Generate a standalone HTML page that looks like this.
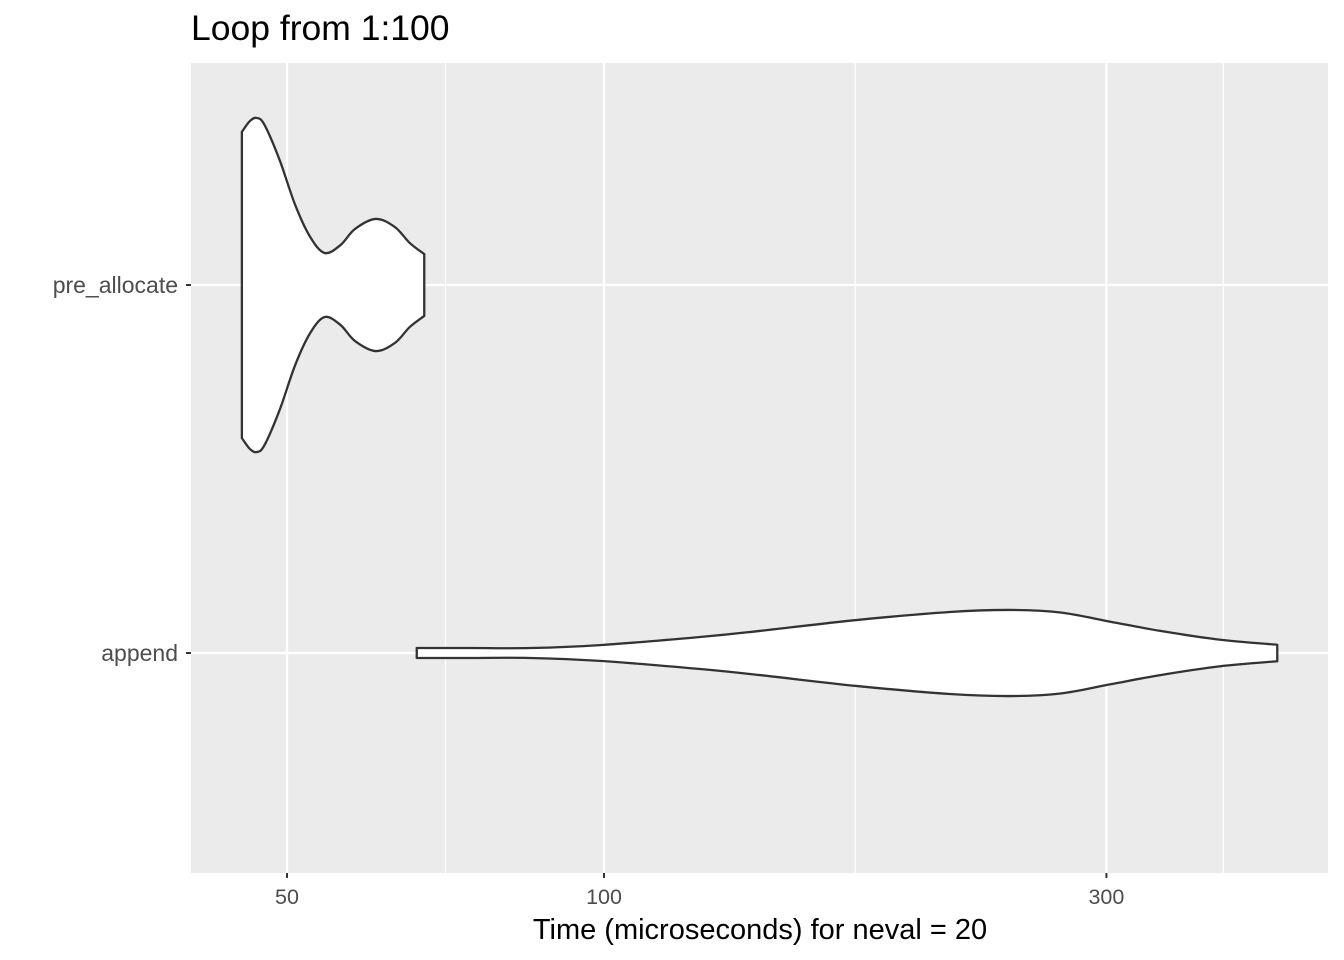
<!DOCTYPE html>
<html><head><meta charset="utf-8">
<style>
html,body{margin:0;padding:0;background:#fff;}
svg{display:block;font-family:"Liberation Sans",sans-serif;}
</style></head>
<body>
<svg id="chart" width="1344" height="960">
<text x="191" y="40" font-size="35.5" fill="#000">Loop from 1:100</text>
<rect x="191" y="63" width="1137" height="810" fill="#ebebeb"/>
<g id="grid"></g>
<g id="violins"></g>
<g id="axes"></g>
<text x="760" y="939" font-size="29" text-anchor="middle" fill="#000">Time (microseconds) for neval = 20</text>
</svg>
<script>
const categories = ["append", "pre_allocate"];
const majorTicks = [50, 100, 300];
const minorTicks = [70.7, 173.2, 387.3];
const preTimes = [45.3,46.1,46.8,47.6,49.2,50.9,52.6,54.3,56.2,58.0,60.7,63.3,65.4,67.5];
const preWidths = [.832,.891,.908,.870,.679,.435,.261,.174,.217,.304,.359,.315,.228,.168];
const appendTimes = [66.4,74.6,85.1,99.1,123.4,140.6,173.6,213.0,243.3,271.3,302.6,337.5,384.8,435.9];
const appendWidths = [.027,.027,.027,.043,.087,.12,.179,.223,.234,.220,.17,.12,.072,.045];

const NS="http://www.w3.org/2000/svg";
const xScale = v => 604 + (Math.log10(v) - 2) * 1053;
const yScale = c => ({append:653, pre_allocate:285})[c];
const wScale = w => w * 184;
const PL=191, PR=1328, PT=63, PB=873;
function mk(tag, attrs, parent){const e=document.createElementNS(NS,tag);for(const k in attrs)e.setAttribute(k,attrs[k]);parent.appendChild(e);return e;}
const grid=document.getElementById('grid'), axes=document.getElementById('axes'), vg=document.getElementById('violins');
minorTicks.forEach(v=>{
  const l=mk('line',{x1:xScale(v),x2:xScale(v),y1:PT,y2:PB,stroke:'#fff','stroke-width':1.2},grid);
  
  
});
majorTicks.forEach(v=>{
  const x=xScale(v);
  const l=mk('line',{x1:x,x2:x,y1:PT,y2:PB,stroke:'#fff','stroke-width':2.3},grid);
  
  
  const t=mk('line',{x1:x,x2:x,y1:PB,y2:PB+5,stroke:'#333','stroke-width':2},axes);
  
  
  const tx=mk('text',{x:x,y:904,'font-size':21.5,'text-anchor':'middle',fill:'#4d4d4d'},axes);
  tx.textContent=v;
  
  
});
categories.forEach(c=>{
  const y=yScale(c);
  const l=mk('line',{x1:PL,x2:PR,y1:y,y2:y,stroke:'#fff','stroke-width':2.3},grid);
  
  
  const t=mk('line',{x1:PL-5,x2:PL,y1:y,y2:y,stroke:'#333','stroke-width':2},axes);
  
  
  const tx=mk('text',{x:PL-13,y:y+8,'font-size':23,'text-anchor':'end',fill:'#4d4d4d'},axes);
  tx.textContent=c;
  
  
});
function smooth(pts){
  let d='';
  for(let i=0;i<pts.length-1;i++){
    const p0=pts[Math.max(0,i-1)],p1=pts[i],p2=pts[i+1],p3=pts[Math.min(pts.length-1,i+2)];
    const c1=[p1[0]+(p2[0]-p0[0])/6,p1[1]+(p2[1]-p0[1])/6];
    const c2=[p2[0]-(p3[0]-p1[0])/6,p2[1]-(p3[1]-p1[1])/6];
    d+=` C${c1[0]},${c1[1]} ${c2[0]},${c2[1]} ${p2[0]},${p2[1]}`;
  }
  return d;
}
function violin(cat, times, widths, name){
  const y=yScale(cat);
  const top=times.map((t,i)=>[xScale(t), y-wScale(widths[i])]);
  const bot=times.map((t,i)=>[xScale(t), y+wScale(widths[i])]).reverse();
  let d=`M${top[0][0]},${top[0][1]}`+smooth(top)+` L${bot[0][0]},${bot[0][1]}`+smooth(bot)+' Z';
  const p=mk('path',{d:d,fill:'#fff',stroke:'#333','stroke-width':2.3,'stroke-linejoin':'round'},vg);
  
  
}
violin('pre_allocate', preTimes, preWidths, 'violin-pre-allocate');
violin('append', appendTimes, appendWidths, 'violin-append');
</script>
</body></html>
